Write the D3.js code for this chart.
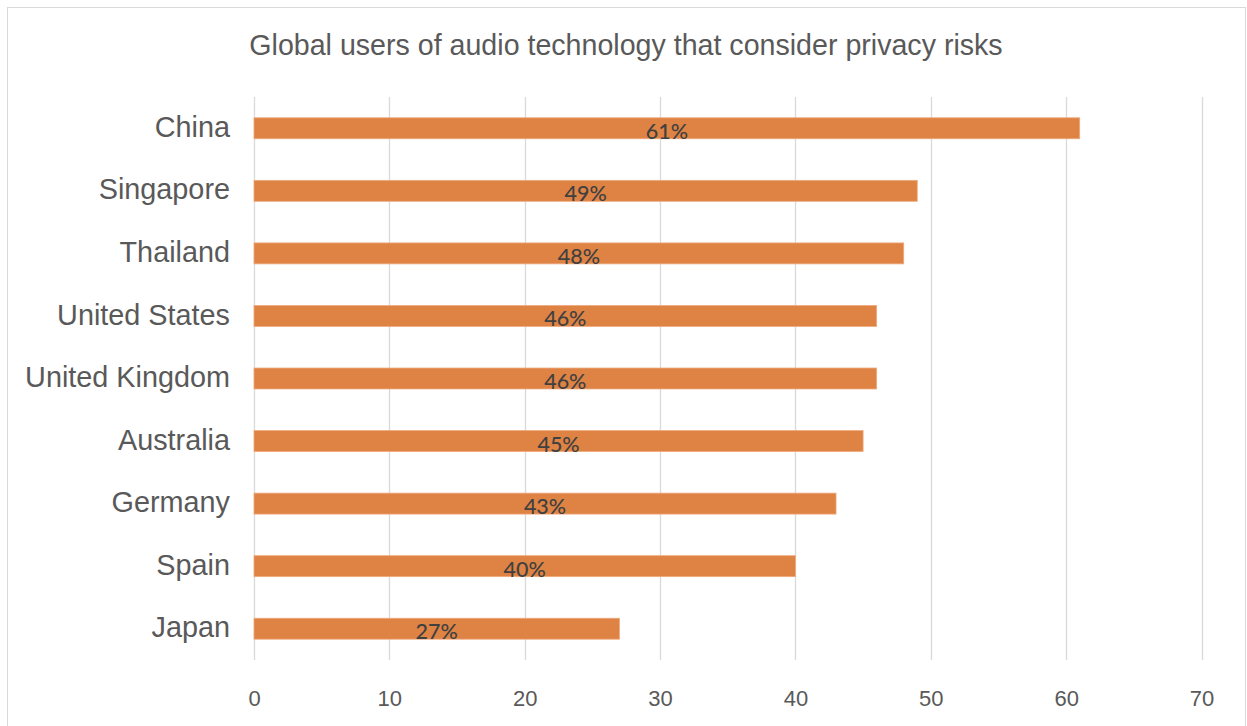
<!DOCTYPE html>
<html>
<head>
<meta charset="utf-8">
<script src="https://cdn.jsdelivr.net/npm/d3@7"></script>
<style>
  html, body { margin: 0; padding: 0; background: #fff; }
  svg { display: block; }
</style>
</head>
<body>
<div id="chart"></div>
<script>
// Data
const countries = ["China", "Singapore", "Thailand", "United States", "United Kingdom",
                   "Australia", "Germany", "Spain", "Japan"];
const shares = [61, 49, 48, 46, 46, 45, 43, 40, 27];
const xTicks = [0, 10, 20, 30, 40, 50, 60, 70];
const chartTitle = "Global users of audio technology that consider privacy risks";

const W = 1247, H = 726;
const plot = { left: 254, right: 1201.5, top: 97, bottom: 660 };

const svg = d3.select("#chart").append("svg")
  .attr("width", W)
  .attr("height", H);

// outer frame
svg.append("rect")
  .attr("x", 7.5).attr("y", 7.5)
  .attr("width", 1238).attr("height", 730)
  .attr("fill", "#fff")
  .attr("stroke", "#d9d9d9")
  .attr("stroke-width", 1);

const x = d3.scaleLinear().domain([0, 70]).range([plot.left, plot.right]);
const y = d3.scaleBand()
  .domain(countries)
  .range([plot.top, plot.bottom])
  .paddingInner(0.665)
  .paddingOuter(0.3325);

// title
svg.append("text")
  .attr("x", 626).attr("y", 55)
  .attr("text-anchor", "middle")
  .style("font-family", "'Liberation Sans', Arial, sans-serif")
  .style("font-size", "28.6px")
  .style("fill", "#595959")
  .text(chartTitle);

// vertical gridlines
svg.append("g").selectAll("line")
  .data(xTicks)
  .join("line")
  .attr("x1", d => Math.round(x(d)) + 0.5)
  .attr("x2", d => Math.round(x(d)) + 0.5)
  .attr("y1", plot.top)
  .attr("y2", plot.bottom)
  .attr("stroke", "#d9d9d9")
  .attr("stroke-width", 1.3);

// x axis labels
const xAxis = svg.append("g")
  .attr("transform", `translate(0, ${plot.bottom})`)
  .call(d3.axisBottom(x).tickValues(xTicks).tickSize(0).tickPadding(30));
xAxis.select(".domain").remove();
xAxis.selectAll("text")
  .style("font-family", "'Liberation Sans', Arial, sans-serif")
  .style("font-size", "22px")
  .style("fill", "#595959");

// y axis labels
const yAxis = svg.append("g")
  .attr("transform", `translate(${plot.left}, 0)`)
  .call(d3.axisLeft(y).tickSize(0).tickPadding(24));
yAxis.select(".domain").remove();
yAxis.selectAll("text")
  .attr("dy", "0.3em")
  .style("font-family", "'Liberation Sans', Arial, sans-serif")
  .style("font-size", "28.8px")
  .style("fill", "#595959");

// bars
const rows = countries.map((c, i) => ({ country: c, value: shares[i] }));

svg.append("g").selectAll("rect")
  .data(rows)
  .join("rect")
  .attr("x", x(0))
  .attr("y", d => y(d.country))
  .attr("width", d => x(d.value) - x(0))
  .attr("height", y.bandwidth())
  .attr("fill", "#df8344")
  .attr("stroke", "#eeaa7d")
  .attr("stroke-width", 0.8);

// value labels centred in bars
svg.append("g").selectAll("text")
  .data(rows)
  .join("text")
  .attr("x", d => (x(0) + x(d.value)) / 2)
  .attr("y", d => y(d.country) + y.bandwidth() / 2 + 10.5)
  .attr("text-anchor", "middle")
  .style("font-family", "Lato, 'Open Sans', sans-serif")
  .style("font-size", "21.5px")
  .style("font-weight", "500")
  .style("fill", "#404040")
  .text(d => d.value + "%");
</script>
</body>
</html>
